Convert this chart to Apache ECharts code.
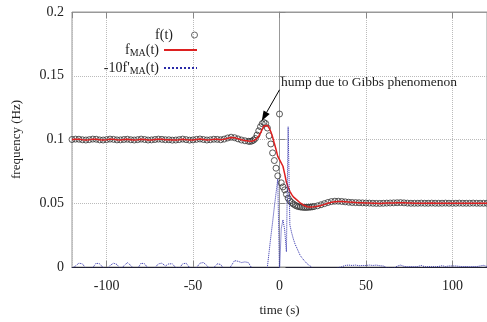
<!DOCTYPE html>
<html><head><meta charset="utf-8">
<script src="https://cdn.jsdelivr.net/npm/echarts@6/dist/echarts.min.js"></script>
<style>html,body{margin:0;padding:0;background:#fff}#c{width:487px;height:322px}</style>
</head><body><div id="c"></div>
<script>
// time (s)
const time = [
-120,-118,-116,-114,-112,-110,-108,-106,-104,-102,
-100,-98,-96,-94,-92,-90,-88,-86,-84,-82,
-80,-78,-76,-74,-72,-70,-68,-66,-64,-62,
-60,-58,-56,-54,-52,-50,-48,-46,-44,-42,
-40,-38,-36,-34,-32,-30,-28,-26,-24,-22,
-20,-18,
-17,-16,-15,-14,-13,-12,-11,-10,-9,-8,
-7,-6,-5,-4,-3,-2,-1,0,1,2,
3,4,5,6,7,8,9,10,11,12,
13,14,15,16,17,18,19,20,
22,24,26,28,30,32,34,36,38,40,
42,44,46,48,50,52,54,56,58,60,
62,64,66,68,70,72,74,76,78,80,
82,84,86,88,90,92,94,96,98,100,
102,104,106,108,110,112,114,116,118,120
];
// f(t)
const fData = [
.1000,.1003,.1002,.0998,.0996,.0999,.1003,.1002,.0997,.0996,
.0999,.1003,.1001,.0997,.0997,.1000,.1002,.0998,.0996,.0999,
.1003,.1000,.0996,.0997,.1000,.1003,.1001,.0998,.0998,.0995,
.0996,.0999,.1003,.0999,.0995,.0997,.1001,.1004,.1000,.0996,
.0998,.1002,.1001,.0998,.1003,.1012,.1018,.1014,.1005,.0996,
.0990,.0986,
.0985,.0988,.0995,.1008,.1035,.1068,.1100,.1124,.1133,.1125,
.1090,.1030,.0965,.0895,.0835,.0775,.0715,.1200,.0660,.0628,
.0605,.0570,.0540,.0518,.0505,.0494,.0485,.0478,.0474,.0471,
.0469,.0468,.0467,.0468,.0469,.0470,.0472,.0474,
.0480,.0488,.0497,.0506,.0513,.0516,.0516,.0514,.0511,.0508,
.0506,.0505,.0504,.0503,.0502,.0501,.0500,.0499,.0499,.0500,
.0501,.0502,.0503,.0504,.0505,.0503,.0501,.0500,.0500,.0500,
.0501,.0500,.0500,.0501,.0500,.0500,.0500,.0501,.0500,.0500,
.0500,.0501,.0500,.0500,.0500,.0501,.0500,.0500,.0500,.0500
];
// f_MA(t)
const fMA = [
.1000,.1002,.1002,.0999,.0997,.0999,.1002,.1002,.0998,.0997,
.0999,.1002,.1001,.0998,.0997,.1000,.1001,.0999,.0997,.0999,
.1002,.1000,.0997,.0997,.1000,.1002,.1001,.0999,.0998,.0996,
.0997,.0999,.1002,.0999,.0996,.0997,.1000,.1003,.1000,.0997,
.0998,.1001,.1001,.0999,.1002,.1009,.1015,.1013,.1006,.0998,
.0992,.0988,
.0986,.0986,.0990,.0997,.1008,.1025,.1050,.1080,.1105,.1117,
.1110,.1090,.1060,.1020,.0970,.0922,.0868,.0842,.0828,.0790,
.0730,.0664,.0625,.0594,.0570,.0550,.0537,.0526,.0514,.0502,
.0492,.0484,.0477,.0473,.0471,.0470,.0471,.0473,
.0477,.0483,.0491,.0500,.0507,.0512,.0514,.0514,.0512,.0509,
.0507,.0505,.0504,.0503,.0502,.0501,.0500,.0500,.0499,.0500,
.0501,.0501,.0502,.0503,.0504,.0503,.0502,.0501,.0500,.0500,
.0500,.0500,.0500,.0501,.0500,.0500,.0500,.0500,.0500,.0500,
.0500,.0500,.0500,.0500,.0500,.0500,.0500,.0500,.0500,.0500
];
// -10 f'_MA(t)
const dMA = [
-0.001,0.0008,0.003,0.0025,-0.001,-0.002,-0.0005,0.003,0.0025,-0.0005,
-0.002,0.0012,0.003,0.002,-0.0015,0.0008,0.0035,0.0012,-0.0015,-0.001,
0.003,0.0025,-0.001,-0.002,-0.0005,0.0025,0.003,0.0008,0.0025,0.0025,
-0.0005,-0.001,0.0025,0.003,-0.0005,-0.002,-0.0005,0.003,0.0035,0.0012,
-0.002,-0.0005,0.0025,0.002,-0.002,-0.003,0.0008,0.005,0.0045,0.0035,
0.004,0.0035,
0.002,-0.001,-0.005,-0.009,-0.014,-0.02,-0.025,-0.025,-0.015,-0.005,
0.0,0.012,0.024,0.035,0.047,0.058,0.069,-0.005,0.030,0.037,
0.029,0.012,0.110,0.033,0.027,0.022,0.018,0.015,0.012,0.009,
0.0072,0.0055,0.004,0.0025,0.0015,0.0005,-0.001,-0.002,
-0.003,-0.004,-0.0045,-0.004,-0.003,-0.0015,-0.0005,0.0002,0.0012,0.0015,
0.0012,0.0015,0.001,0.0012,0.0012,0.0015,0.0012,0.0015,0.001,0.0008,
-0.0005,-0.001,-0.0008,0.0006,0.0015,0.0005,0.0002,0.0003,0.0002,0.0004,
0.0012,0.0002,0.0002,0.0003,0.0002,0.0004,0.001,0.0004,0.0008,0.0008,
0.0008,0.0005,0.0003,0.0004,0.0002,0.0004,0.0003,0.0008,0.0013,0.0004
];
const annotationText = 'hump due to Gibbs phenomenon';
const arrowFrom = [0, 0.139];
const arrowTo = [-10.3, 0.1145];
const textAt = [0.8, 0.1445];

const FF = "'Liberation Serif','Times New Roman',serif";
const chart = echarts.init(document.getElementById('c'));
const rich = {
  m: {fontFamily: FF, fontSize: 14, color: '#222'},
  s: {fontFamily: FF, fontSize: 10, color: '#222', padding: [7, 0, 0, 0]}
};
function legendCfg(name, top, h, fmt, itemStyle) {
  return {
    data: [name], right: 284, top: top, orient: 'vertical', align: 'right',
    itemWidth: 33, itemHeight: h, selectedMode: false,
    itemStyle: itemStyle,
    textStyle: {fontFamily: FF, fontSize: 14, color: '#222', rich: rich},
    formatter: fmt
  };
}
chart.setOption({
  animation: false,
  backgroundColor: '#fff',
  grid: {left: 72, right: -2, top: 12, bottom: 54, show: true, borderColor: '#999', borderWidth: 1},
  legend: [
    legendCfg('f(t)', 23, 6, () => '{m|f(t)}', {color: 'rgba(0,0,0,0)', borderColor: '#444', borderWidth: 1}),
    legendCfg("fMA(t)", 38, 14, () => '{m|f}{s|MA}{m|(t)}', {opacity: 0}),
    legendCfg("-10f'MA(t)", 56, 14, () => "{m|-10f'}{s|MA}{m|(t)}", {opacity: 0})
  ],
  xAxis: [{
    type: 'value', min: -120, max: 120,
    name: 'time (s)', nameLocation: 'middle', nameGap: 37,
    nameTextStyle: {fontFamily: FF, fontSize: 13, color: '#222'},
    axisLine: {lineStyle: {color: '#223', width: 1}},
    axisTick: {inside: true, length: 6, lineStyle: {color: '#888'}},
    axisLabel: {fontFamily: FF, fontSize: 14, color: '#222', margin: 12, showMinLabel: false, showMaxLabel: false},
    splitLine: {show: true, lineStyle: {color: '#bbb', type: 'dotted', width: 1}}
  }, {
    type: 'value', min: -120, max: 120, position: 'top',
    axisLine: {lineStyle: {color: '#999'}},
    axisTick: {inside: true, length: 6, lineStyle: {color: '#888'}},
    axisLabel: {show: false}, splitLine: {show: false}
  }],
  yAxis: {
    type: 'value', min: 0, max: 0.2, interval: 0.05,
    name: 'frequency (Hz)', nameLocation: 'middle', nameGap: 49,
    nameTextStyle: {fontFamily: FF, fontSize: 13, color: '#222'},
    axisLine: {show: true, lineStyle: {color: '#999'}},
    axisTick: {show: true, inside: true, length: 6, lineStyle: {color: '#888'}},
    axisLabel: {fontFamily: FF, fontSize: 14, color: '#222', margin: 8},
    splitLine: {show: true, lineStyle: {color: '#bbb', type: 'dotted', width: 1}}
  },
  series: [
    {
      name: 'f(t)', type: 'scatter', symbol: 'circle', symbolSize: 6,
      data: time.map((t, i) => [t, fData[i]]),
      itemStyle: {color: 'rgba(0,0,0,0)', borderColor: '#333', borderWidth: 1}
    },
    {
      name: 'fMA(t)', type: 'line', symbol: 'none', showSymbol: false,
      data: time.map((t, i) => [t, fMA[i]]),
      lineStyle: {color: '#dd2020', width: 1.5}, itemStyle: {color: '#dd2020'}
    },
    {
      name: "-10f'MA(t)", type: 'line', symbol: 'none', showSymbol: false,
      data: time.map((t, i) => [t, dMA[i]]),
      lineStyle: {color: '#2a2aa8', width: 1, type: 'dotted'}, itemStyle: {color: '#2a2aa8'}
    }
  ]
});
const p = chart.convertToPixel({gridIndex: 0}, textAt);
const a = chart.convertToPixel({gridIndex: 0}, arrowFrom);
const b = chart.convertToPixel({gridIndex: 0}, arrowTo);
const dx = b[0] - a[0], dy = b[1] - a[1], L = Math.hypot(dx, dy);
const ux = dx / L, uy = dy / L, hl = 10, hw = 3.5;
const base = [b[0] - ux * hl, b[1] - uy * hl];
chart.setOption({graphic: [
  {type: 'text', x: p[0], y: p[1],
   style: {text: annotationText, fontFamily: FF, fontSize: 13.5, fill: '#222', verticalAlign: 'middle', align: 'left'}},
  {type: 'line', shape: {x1: a[0], y1: a[1], x2: base[0], y2: base[1]}, style: {stroke: '#000', lineWidth: 1}, z: 100},
  {type: 'polygon', shape: {points: [b, [base[0] - uy * hw, base[1] + ux * hw], [base[0] + uy * hw, base[1] - ux * hw]]},
   style: {fill: '#000'}, z: 100}
]});
</script></body></html>
